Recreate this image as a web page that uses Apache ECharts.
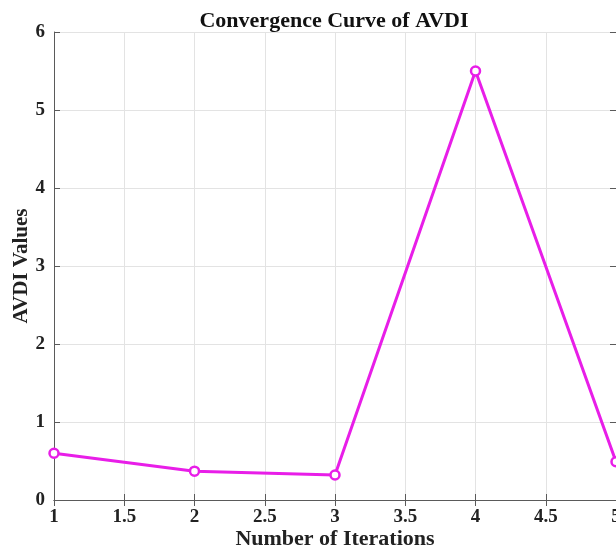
<!DOCTYPE html>
<html>
<head>
<meta charset="utf-8">
<script src="https://cdn.jsdelivr.net/npm/echarts@6/dist/echarts.min.js"></script>
<style>
  html, body { margin: 0; padding: 0; background: #fff; }
  #chart { width: 616px; height: 551px; }
</style>
</head>
<body>
<div id="chart"></div>
<script>
// data
const iterations = [1, 2, 3, 4, 5]
const avdiValues = [0.6, 0.37, 0.32, 5.5, 0.49]

const font = 'Liberation Serif, Times New Roman, serif'
const axisGray = '#5a5a5a'

const chart = echarts.init(document.getElementById('chart'))

const sideAxis = {
  axisLine: { show: true, lineStyle: { color: axisGray, width: 1 } },
  axisTick: { show: true, inside: true, length: 6, lineStyle: { color: axisGray } },
  axisLabel: { show: false },
  splitLine: { show: false }
}

chart.setOption({
  animation: false,
  title: {
    text: 'Convergence Curve of AVDI',
    left: 329,
    top: 5,
    textAlign: 'center',
    textStyle: { fontFamily: font, fontWeight: 'bold', fontSize: 22, color: '#111' }
  },
  grid: { left: 54, right: 0, top: 32, bottom: 51, containLabel: false, outerBoundsMode: 'none' },
  xAxis: [
    {
      type: 'value',
      min: 1, max: 5, interval: 0.5,
      name: 'Number of Iterations',
      nameLocation: 'middle',
      nameGap: 28,
      nameMoveOverlap: false,
      nameTextStyle: { fontFamily: font, fontWeight: 'bold', fontSize: 22, color: '#222' },
      axisLine: { show: true, lineStyle: { color: axisGray, width: 1 } },
      axisTick: { show: true, inside: true, length: 6, lineStyle: { color: axisGray } },
      axisLabel: { fontFamily: font, fontWeight: 'bold', fontSize: 19, color: '#222', margin: 8 },
      splitLine: { show: true, lineStyle: { color: '#e3e3e3', width: 1 } }
    },
    Object.assign({ type: 'value', min: 1, max: 5, interval: 0.5, position: 'top' }, sideAxis)
  ],
  yAxis: [
    {
      type: 'value',
      min: 0, max: 6, interval: 1,
      name: 'AVDI Values',
      nameLocation: 'middle',
      nameGap: 22,
      nameRotate: 90,
      nameMoveOverlap: false,
      nameTextStyle: { fontFamily: font, fontWeight: 'bold', fontSize: 21, color: '#222' },
      axisLine: { show: true, lineStyle: { color: axisGray, width: 1 } },
      axisTick: { show: true, inside: true, length: 6, lineStyle: { color: axisGray } },
      axisLabel: { fontFamily: font, fontWeight: 'bold', fontSize: 19, color: '#222', margin: 9 },
      splitLine: { show: true, lineStyle: { color: '#e3e3e3', width: 1 } }
    },
    Object.assign({ type: 'value', min: 0, max: 6, interval: 1, position: 'right' }, sideAxis)
  ],
  series: [
    {
      type: 'line',
      data: iterations.map((x, i) => [x, avdiValues[i]]),
      symbol: 'circle',
      symbolSize: 9,
      showAllSymbol: true,
      lineStyle: { color: '#e81ee8', width: 3 },
      itemStyle: { color: '#ffffff', borderColor: '#e81ee8', borderWidth: 2.5 },
      clip: false
    }
  ]
})
</script>
</body>
</html>
